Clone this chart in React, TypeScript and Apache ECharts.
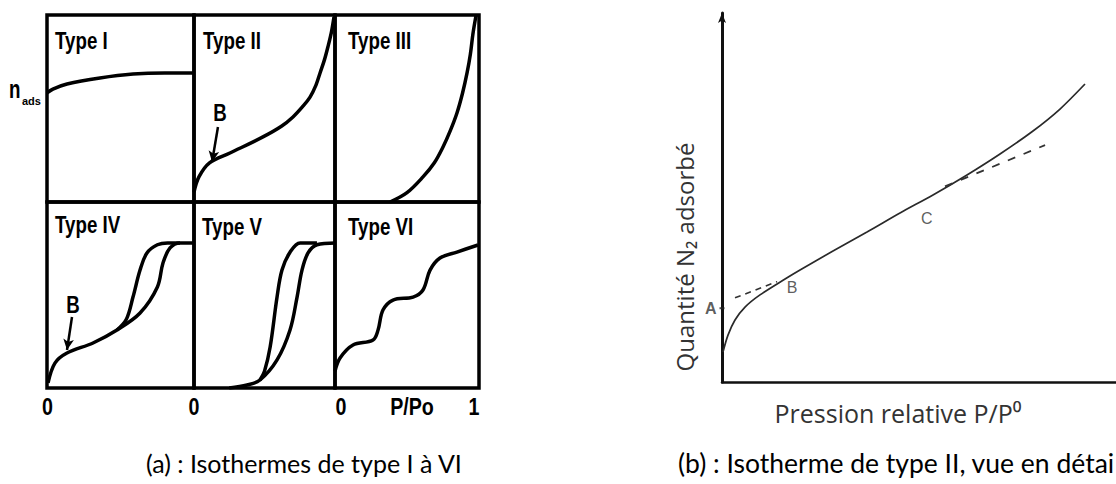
import React, { useEffect, useRef } from 'react';
import * as echarts from 'echarts';

// ---- Data (fractions of each panel's axes, 0..1) ----
const typeI: number[][] = [[0, 0.583], [0.04, 0.604], [0.136, 0.631], [0.36, 0.663], [0.585, 0.684], [0.8, 0.69], [1.0, 0.69]];
const typeII: number[][] = [[0, 0.053], [0.035, 0.134], [0.11, 0.209], [0.255, 0.262], [0.489, 0.348], [0.62, 0.405], [0.702, 0.455], [0.77, 0.51], [0.823, 0.561], [0.865, 0.625], [0.894, 0.69], [0.925, 0.76], [0.95, 0.83], [0.975, 0.91], [0.993, 0.99]];
const typeIII: number[][] = [[0.382, 0.0], [0.5, 0.05], [0.611, 0.134], [0.69, 0.21], [0.75, 0.294], [0.8, 0.38], [0.847, 0.476], [0.885, 0.58], [0.917, 0.69], [0.94, 0.79], [0.958, 0.9], [0.98, 1.0]];
const typeIVAds: number[][] = [[0.007, 0.027], [0.054, 0.134], [0.136, 0.188], [0.313, 0.242], [0.476, 0.312], [0.633, 0.403], [0.751, 0.543], [0.789, 0.672], [0.837, 0.753], [0.905, 0.78], [1.0, 0.78]];
const typeIVDes: number[][] = [[0.476, 0.312], [0.54, 0.37], [0.585, 0.489], [0.633, 0.634], [0.68, 0.726], [0.751, 0.77], [0.82, 0.78], [0.905, 0.78]];
const typeVAds: number[][] = [[0.25, 0.0], [0.376, 0.016], [0.468, 0.043], [0.589, 0.151], [0.681, 0.312], [0.731, 0.489], [0.766, 0.634], [0.809, 0.726], [0.872, 0.77], [1.0, 0.78]];
const typeVDes: number[][] = [[0.468, 0.043], [0.5, 0.09], [0.54, 0.22], [0.589, 0.489], [0.624, 0.634], [0.681, 0.73], [0.752, 0.78], [0.872, 0.78]];
const typeVI: number[][] = [[0.0, 0.09], [0.035, 0.161], [0.125, 0.231], [0.264, 0.258], [0.299, 0.312], [0.333, 0.419], [0.403, 0.473], [0.542, 0.489], [0.611, 0.527], [0.66, 0.634], [0.729, 0.699], [0.847, 0.731], [0.993, 0.769]];

// B arrows (start -> end) and label positions in the Type II and Type IV panels
const arrowII: number[][] = [[0.17, 0.401], [0.128, 0.214]];
const labelBII: number[] = [0.184, 0.476];
const arrowIV: number[][] = [[0.17, 0.382], [0.136, 0.204]];
const labelBIV: number[] = [0.177, 0.446];

// Right panel (b): detailed Type II isotherm
const detailCurve: number[][] = [[0.0025, 0.081], [0.0152, 0.127], [0.033, 0.168], [0.0584, 0.203], [0.0964, 0.236], [0.16, 0.279], [0.198, 0.3035], [0.2817, 0.355], [0.368, 0.4065], [0.4518, 0.458], [0.5355, 0.5068], [0.6218, 0.561], [0.7056, 0.6179], [0.7893, 0.6802], [0.8579, 0.7398], [0.9213, 0.8076]];
const tangentAB: number[][] = [[0.033, 0.228], [0.14, 0.272]];
const tangentC: number[][] = [[0.566, 0.53], [0.82, 0.642]];
const pointA: number[] = [0, 0.2];
const pointB: number[] = [0.178, 0.257];
const pointC: number[] = [0.52, 0.444];

const typeLabels = ['Type I', 'Type II', 'Type III', 'Type IV', 'Type V', 'Type VI'];
const bottomTicks = ['0', '0', '0', 'P/Po', '1'];

const COND = "'Liberation Sans', Arial, sans-serif";
const SANS = "'Open Sans', 'Noto Sans', sans-serif";
const CAP = "Lato, 'Open Sans', sans-serif";

export default function App() {
  const ref = useRef<HTMLDivElement>(null);

  useEffect(() => {
    const chart = echarts.init(ref.current!, null, { renderer: 'svg' });

    const cells = [
      { left: 47, top: 15, width: 147, height: 187 },
      { left: 194, top: 15, width: 141, height: 187 },
      { left: 335, top: 15, width: 144, height: 187 },
      { left: 47, top: 202, width: 147, height: 186 },
      { left: 194, top: 202, width: 141, height: 186 },
      { left: 335, top: 202, width: 144, height: 186 },
    ];

    const grids: any[] = cells.map((c) => ({
      ...c,
      show: true,
      borderColor: '#000',
      borderWidth: 3.5,
      backgroundColor: 'transparent',
    }));
    grids.push({ left: 722, top: 13, width: 394, height: 369, show: false });

    const hidden = {
      axisLine: { show: false },
      axisTick: { show: false },
      axisLabel: { show: false },
      splitLine: { show: false },
    };
    const xAxis: any[] = cells.map((_, i) => ({ type: 'value', min: 0, max: 1, gridIndex: i, ...hidden }));
    const yAxis: any[] = cells.map((_, i) => ({ type: 'value', min: 0, max: 1, gridIndex: i, ...hidden }));
    xAxis.push({
      type: 'value', min: 0, max: 1, gridIndex: 6,
      axisLine: { show: true, lineStyle: { color: '#111', width: 2.5 } },
      axisTick: { show: false }, axisLabel: { show: false }, splitLine: { show: false },
    });
    yAxis.push({
      type: 'value', min: 0, max: 1, gridIndex: 6,
      axisLine: { show: true, symbol: ['none', 'arrow'], symbolSize: [6, 10], lineStyle: { color: '#111', width: 3 } },
      axisTick: { show: false }, axisLabel: { show: false }, splitLine: { show: false },
    });

    const thick = (data: number[][], idx: number, extra: any = {}) => ({
      type: 'line',
      data,
      xAxisIndex: idx,
      yAxisIndex: idx,
      showSymbol: false,
      smooth: 0.35,
      silent: true,
      lineStyle: { color: '#000', width: 3.5 },
      ...extra,
    });

    const arrowMark = (arrow: number[][]) => ({
      silent: true,
      symbol: ['none', 'arrow'],
      symbolSize: [8, 11],
      label: { show: false },
      lineStyle: { color: '#000', width: 2.5, type: 'solid' },
      data: [[{ coord: arrow[0] }, { coord: arrow[1] }]],
    });

    const textLabel = (pos: number[], text: string, idx: number, style: any) => ({
      type: 'scatter',
      xAxisIndex: idx,
      yAxisIndex: idx,
      symbolSize: 0,
      silent: true,
      data: [pos],
      label: { show: true, formatter: text, position: [0, 0], align: 'center', verticalAlign: 'middle', ...style },
    });

    const series: any[] = [
      thick(typeI, 0),
      thick(typeII, 1, { markLine: arrowMark(arrowII) }),
      thick(typeIII, 2),
      thick(typeIVAds, 3, { markLine: arrowMark(arrowIV) }),
      thick(typeIVDes, 3),
      thick(typeVAds, 4),
      thick(typeVDes, 4),
      thick(typeVI, 5),
      {
        type: 'line', data: detailCurve, xAxisIndex: 6, yAxisIndex: 6, showSymbol: false, smooth: 0.3, silent: true,
        lineStyle: { color: '#2a2a2a', width: 1.7 },
      },
      {
        type: 'line', data: tangentAB, xAxisIndex: 6, yAxisIndex: 6, showSymbol: false, silent: true,
        lineStyle: { color: '#333', width: 1.6, type: [6, 5] },
      },
      {
        type: 'line', data: tangentC, xAxisIndex: 6, yAxisIndex: 6, showSymbol: false, silent: true,
        lineStyle: { color: '#333', width: 1.8, type: [8, 9] },
      },
      {
        type: 'scatter', xAxisIndex: 6, yAxisIndex: 6, silent: true, data: [pointA],
        symbol: 'rect', symbolSize: [5, 2], itemStyle: { color: '#222' },
        label: { show: true, formatter: 'A', position: 'left', distance: 3, fontFamily: COND, fontWeight: 'bold', fontSize: 16, color: '#333' },
      },
      textLabel(pointB, 'B', 6, { fontFamily: COND, fontSize: 16, color: '#333' }),
      textLabel(pointC, 'C', 6, { fontFamily: COND, fontSize: 16, color: '#333' }),
    ];

    chart.setOption({
      animation: false,
      backgroundColor: '#fff',
      grid: grids,
      xAxis,
      yAxis,
      series,
    });

    const bII = chart.convertToPixel({ xAxisIndex: 1, yAxisIndex: 1 }, labelBII) as number[];
    const bIV = chart.convertToPixel({ xAxisIndex: 3, yAxisIndex: 3 }, labelBIV) as number[];

    const condText = (text: string, x: number, y: number, size: number, align = 'left', sx = 0.78) => ({
      type: 'text', x, y, scaleX: sx, scaleY: 1,
      style: { text, fontFamily: COND, fontWeight: 'bold', fontSize: size, fill: '#000', align, verticalAlign: 'middle' },
    });

    const labelPos = [[55, 41], [203, 41], [348, 41], [55, 225], [202, 227], [348, 227]];
    const tickPos = [[47.5, 407], [194, 407], [341, 407], [412, 407], [474, 407]];

    const graphic: any[] = [
      ...typeLabels.map((t, i) => condText(t, labelPos[i][0], labelPos[i][1], 24)),
      ...bottomTicks.map((t, i) => condText(t, tickPos[i][0], tickPos[i][1], 24, 'center', 0.82)),
      condText('B', bII[0], bII[1], 24, 'center'),
      condText('B', bIV[0], bIV[1], 24, 'center'),
      condText('n', 9, 90, 25, 'left', 0.75),
      { type: 'text', x: 22, y: 101, style: { text: 'ads', fontFamily: COND, fontWeight: 'bold', fontSize: 11, fill: '#000', verticalAlign: 'middle' } },
      {
        type: 'text', x: 684, y: 257, rotation: Math.PI / 2,
        style: { text: 'Quantité N₂ adsorbé', fontFamily: SANS, fontSize: 24, fill: '#333', align: 'center', verticalAlign: 'middle' },
      },
      {
        type: 'text', x: 898, y: 413,
        style: { text: 'Pression relative P/P⁰', fontFamily: SANS, fontSize: 25, fill: '#333', align: 'center', verticalAlign: 'middle' },
      },
      {
        type: 'text', x: 146, y: 463,
        style: { text: '(a) : Isothermes de type I à VI', fontFamily: CAP, fontSize: 25, fill: '#000', align: 'left', verticalAlign: 'middle' },
      },
      {
        type: 'text', x: 678, y: 463,
        style: { text: '(b) : Isotherme de type II, vue en détai', fontFamily: CAP, fontSize: 26.5, fill: '#000', align: 'left', verticalAlign: 'middle' },
      },
    ];

    chart.setOption({ graphic });

    return () => chart.dispose();
  }, []);

  return <div ref={ref} style={{ position: 'absolute', left: 0, top: 0, width: 1116, height: 484, background: '#fff' }} />;
}
